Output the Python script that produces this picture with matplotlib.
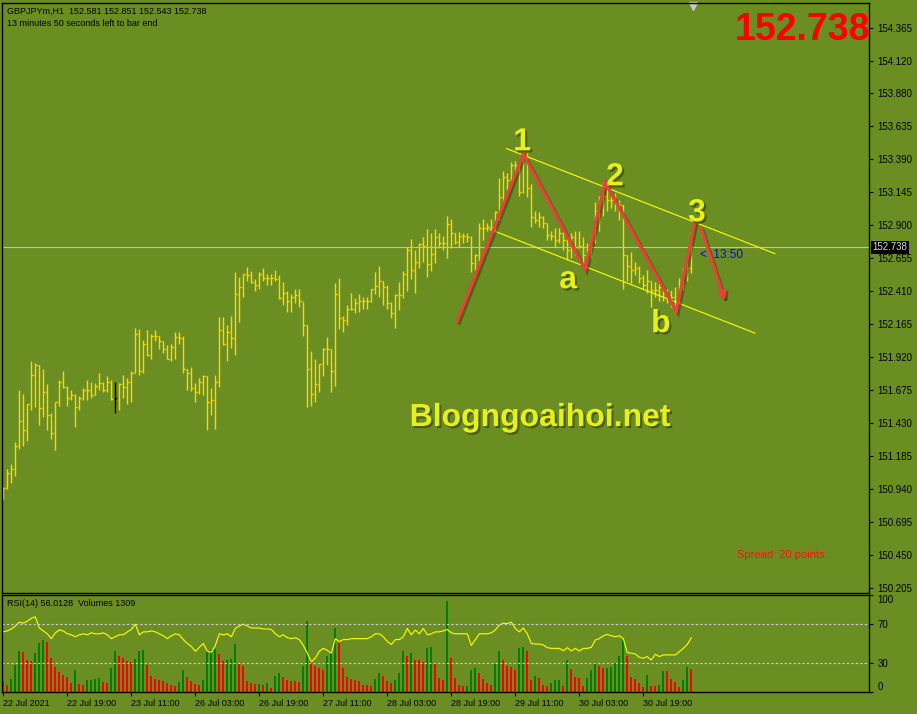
import numpy as np
import matplotlib.pyplot as plt
import matplotlib.patheffects as pe
from matplotlib.transforms import blended_transform_factory

plt.rcParams['font.family'] = ['Liberation Sans', 'DejaVu Sans']

# GBPJPYm H1 bars, 22 Jul 2021 03:00 onwards (open of bar i = close of bar i-1)
first_open = 150.87
highs = [150.96, 151.09, 151.13, 151.29, 151.68, 151.65, 151.57, 151.89, 151.88, 151.86,
         151.83, 151.72, 151.51, 151.59, 151.75, 151.82, 151.71, 151.68, 151.65, 151.63,
         151.69, 151.75, 151.74, 151.73, 151.80, 151.74, 151.78, 151.75, 151.74, 151.73,
         151.79, 151.77, 151.82, 152.14, 152.13, 152.05, 152.12, 152.09, 152.12, 152.08,
         152.04, 152.01, 152.02, 152.11, 152.11, 152.08, 151.83, 151.85, 151.73, 151.77,
         151.79, 151.78, 151.69, 151.79, 152.22, 152.22, 152.16, 152.23, 152.55, 152.52,
         152.54, 152.59, 152.56, 152.50, 152.55, 152.58, 152.54, 152.54, 152.57, 152.53,
         152.48, 152.41, 152.39, 152.43, 152.43, 152.33, 152.16, 151.97, 151.91, 151.87,
         151.99, 152.07, 151.98, 152.47, 152.51, 152.23, 152.31, 152.40, 152.36, 152.39,
         152.37, 152.37, 152.43, 152.55, 152.60, 152.49, 152.46, 152.33, 152.39, 152.48,
         152.56, 152.74, 152.80, 152.72, 152.77, 152.81, 152.87, 152.84, 152.87, 152.84,
         152.82, 152.97, 152.95, 152.84, 152.85, 152.84, 152.84, 152.82, 152.69, 152.92,
         152.95, 152.92, 152.95, 153.01, 153.25, 153.30, 153.29, 153.37, 153.38, 153.36,
         153.46, 153.44, 153.21, 153.01, 153.00, 152.97, 152.92, 152.86, 152.88, 152.88,
         152.86, 152.80, 152.84, 152.86, 152.86, 152.81, 152.77, 152.83, 153.07, 153.12,
         153.22, 153.20, 153.16, 153.14, 153.09, 153.05, 152.68, 152.70, 152.63, 152.60,
         152.53, 152.57, 152.49, 152.48, 152.49, 152.46, 152.43, 152.42, 152.44, 152.51,
         152.58, 152.69, 152.851]
lows = [150.87, 150.94, 150.99, 151.04, 151.24, 151.26, 151.30, 151.53, 151.55, 151.42,
        151.48, 151.38, 151.31, 151.23, 151.56, 151.69, 151.56, 151.60, 151.40, 151.53,
        151.60, 151.60, 151.62, 151.64, 151.68, 151.66, 151.66, 151.60, 151.51, 151.53,
        151.62, 151.57, 151.59, 151.80, 151.79, 151.80, 151.93, 151.91, 152.04, 151.98,
        151.95, 151.91, 151.89, 151.91, 152.02, 151.80, 151.68, 151.67, 151.59, 151.65,
        151.64, 151.38, 151.49, 151.39, 151.70, 152.01, 151.89, 151.99, 151.94, 152.18,
        152.37, 152.49, 152.47, 152.41, 152.43, 152.49, 152.46, 152.46, 152.49, 152.35,
        152.31, 152.26, 152.26, 152.32, 152.29, 152.08, 151.55, 151.56, 151.59, 151.66,
        151.78, 151.86, 151.66, 151.71, 152.13, 152.11, 152.16, 152.27, 152.25, 152.26,
        152.28, 152.28, 152.33, 152.39, 152.37, 152.31, 152.28, 152.21, 152.14, 152.27,
        152.36, 152.41, 152.50, 152.40, 152.58, 152.63, 152.52, 152.56, 152.62, 152.73,
        152.72, 152.66, 152.73, 152.76, 152.74, 152.77, 152.78, 152.55, 152.57, 152.61,
        152.79, 152.86, 152.86, 152.85, 152.94, 153.03, 153.16, 153.18, 153.29, 153.12,
        153.14, 153.11, 152.89, 152.92, 152.89, 152.88, 152.79, 152.79, 152.74, 152.77,
        152.72, 152.64, 152.66, 152.68, 152.73, 152.58, 152.63, 152.66, 152.77, 152.86,
        152.97, 153.01, 153.03, 153.01, 152.94, 152.43, 152.49, 152.47, 152.53, 152.47,
        152.43, 152.40, 152.29, 152.37, 152.34, 152.34, 152.32, 152.29, 152.26, 152.33,
        152.42, 152.49, 152.543]
closes = [150.95, 151.06, 151.09, 151.26, 151.45, 151.38, 151.57, 151.79, 151.86, 151.54,
          151.66, 151.49, 151.36, 151.59, 151.74, 151.70, 151.62, 151.64, 151.55, 151.62,
          151.68, 151.68, 151.64, 151.71, 151.73, 151.68, 151.74, 151.61, 151.62, 151.72,
          151.70, 151.74, 151.80, 152.09, 151.82, 152.02, 151.94, 152.08, 152.08, 152.04,
          151.98, 151.91, 152.00, 152.07, 152.06, 151.83, 151.80, 151.69, 151.66, 151.74,
          151.78, 151.59, 151.60, 151.74, 152.12, 152.02, 152.11, 152.06, 152.39, 152.44,
          152.54, 152.53, 152.48, 152.46, 152.54, 152.51, 152.51, 152.51, 152.50, 152.36,
          152.40, 152.34, 152.37, 152.38, 152.34, 152.16, 151.83, 151.65, 151.72, 151.87,
          151.98, 151.98, 151.82, 152.39, 152.21, 152.20, 152.28, 152.28, 152.32, 152.34,
          152.34, 152.34, 152.43, 152.45, 152.49, 152.44, 152.32, 152.25, 152.38, 152.38,
          152.54, 152.72, 152.57, 152.63, 152.76, 152.75, 152.61, 152.69, 152.81, 152.77,
          152.77, 152.91, 152.84, 152.78, 152.82, 152.82, 152.81, 152.62, 152.68, 152.88,
          152.88, 152.89, 152.89, 153.00, 153.11, 153.26, 153.24, 153.35, 153.35, 153.15,
          153.41, 153.18, 152.96, 152.94, 152.96, 152.92, 152.83, 152.82, 152.79, 152.84,
          152.79, 152.72, 152.81, 152.74, 152.75, 152.68, 152.72, 152.79, 153.01, 153.09,
          153.12, 153.09, 153.09, 153.06, 153.05, 152.68, 152.60, 152.57, 152.58, 152.51,
          152.46, 152.49, 152.42, 152.42, 152.44, 152.40, 152.38, 152.37, 152.34, 152.46,
          152.54, 152.58, 152.738]
marked_bar = 28  # the one bar MT4 draws in black

volumes = [636, 411, 748, 1533, 2281, 2225, 1814, 1720, 2188, 2749,
           2936, 2786, 1907, 1403, 1103, 972, 842, 505, 1253, 449,
           411, 655, 692, 729, 785, 580, 505, 1346, 2319, 2001,
           1907, 1720, 1683, 1851, 2281, 2338, 1533, 916, 729, 655,
           598, 505, 374, 355, 542, 1253, 842, 598, 449, 411,
           655, 2281, 2375, 2431, 2132, 1720, 1814, 1870, 2712, 1590,
           1440, 598, 505, 449, 468, 411, 505, 224, 879, 1066,
           842, 655, 636, 598, 580, 1477, 4002, 1720, 1440, 1346,
           1253, 2001, 2281, 3590, 2749, 1346, 842, 729, 655, 598,
           411, 374, 355, 729, 1066, 879, 598, 505, 692, 1066,
           2281, 2001, 2188, 1814, 1795, 1683, 2468, 2525, 1590, 785,
           692, 5124, 1907, 785, 374, 318, 355, 1253, 1346, 1066,
           729, 505, 411, 1590, 2281, 1814, 1477, 1384, 1253, 2468,
           2525, 2281, 692, 879, 785, 411, 355, 505, 655, 692,
           318, 1777, 1290, 842, 785, 355, 785, 1253, 1627, 1440,
           1346, 1360, 1380, 1627, 2001, 2936, 2001, 842, 729, 505,
           262, 972, 355, 318, 411, 1197, 1159, 729, 542, 262,
           692, 1384, 1309]

rsi = [62, 63, 65, 68, 72, 71, 73, 76, 77.5, 66,
       63, 60, 55, 61, 64, 63, 60, 59, 57, 59,
       60, 59, 61, 60, 60, 61, 59, 55, 57, 59,
       59, 62, 64.5, 70, 59, 62, 62, 63, 62, 60,
       58, 55, 58, 60, 59, 54, 50, 47, 42, 46,
       50, 42, 41, 48, 60, 59, 60, 57, 65.5, 68,
       70, 68, 66, 66, 66, 65, 65, 64.5, 60, 57,
       59, 56, 55, 56, 54, 48, 40, 31, 35, 42,
       45, 43, 40, 55, 52, 54, 54, 55, 55, 55,
       55, 55, 57, 60, 60, 57, 52, 49, 54, 54,
       57, 65.5, 59, 64, 60, 65.5, 59, 60, 62, 62,
       63, 64.5, 61, 60, 60, 60, 60, 48, 54, 60,
       60, 60, 61, 64, 69, 71, 70.5, 72, 65.5, 62,
       66, 60, 50, 49.5, 49.5, 48.5, 45.7, 45, 45, 45,
       42.6, 45.7, 42.3, 45, 42.3, 45, 45, 46, 53.6, 55,
       58, 59.4, 58, 57, 58, 55, 40.6, 40, 39.2, 35.8,
       34.8, 36.5, 33, 39, 36.5, 38.2, 38.2, 38.2, 38.2, 41.6,
       45, 49, 56.0128]

price_ticks = [154.365, 154.120, 153.880, 153.635, 153.390, 153.145, 152.900, 152.655, 152.410,
               152.165, 151.920, 151.675, 151.430, 151.185, 150.940, 150.695, 150.450, 150.205]
date_pos = [0, 16, 32, 48, 64, 80, 96, 112, 128, 144, 160]
date_labels = ['22 Jul 2021', '22 Jul 19:00', '23 Jul 11:00', '26 Jul 03:00', '26 Jul 19:00',
               '27 Jul 11:00', '28 Jul 03:00', '28 Jul 19:00', '29 Jul 11:00', '30 Jul 03:00',
               '30 Jul 19:00']
last_price = 152.738

# hand drawn analysis (bar index, price)
wave_x = [113.5, 130.0, 145.4, 150.4, 168.2, 173.0]
wave_y = [152.19, 153.43, 152.57, 153.22, 152.26, 152.94]
arrow_from = (174.2, 152.90)
arrow_to = (180.6, 152.32)
chan_upper = ([125.8, 192.9], [153.47, 152.69])
chan_lower = ([121.7, 187.9], [152.87, 152.10])
wave_labels = ['1', '2', '3', 'a', 'b']
label_x = [129.7, 152.9, 173.4, 141.2, 164.4]
label_y = [153.457, 153.197, 152.930, 152.433, 152.107]

BG = '#6b8e23'
BAR = '#ffd700'
WAVE = '#ee4038'
LBL = '#e8f018'
W, H = 917, 714
PX = 0.72  # one pixel in points


def box(l, t, r, b):
    return [l / W, 1 - b / H, (r - l) / W, (b - t) / H]


fig = plt.figure(figsize=(W / 100, H / 100), dpi=100, facecolor=BG)
ax = fig.add_axes(box(2, 3, 869, 593), facecolor=BG)
ax_rsi = fig.add_axes(box(2, 595, 869, 692), facecolor=BG)

n = len(closes)
x = np.arange(n)
opens = [first_open] + closes[:-1]
cols = [BAR] * n
cols[marked_bar] = 'black'

# OHLC bars
ax.vlines(x, lows, highs, colors=cols, lw=1.0)
ax.hlines(opens, x - 0.3, x, colors=cols, lw=1.0)
ax.hlines(closes, x, x + 0.3, colors=cols, lw=1.0)
ax.axhline(last_price, color='#c0c0c0', lw=0.8)

xmin = -0.33
xmax = xmin + 867 / 4
ax.set_xlim(xmin, xmax)
ax.set_ylim(150.170, 154.551)
ax.set_xticks([])
ax.yaxis.tick_right()
ax.set_yticks(price_ticks)
ax.set_yticklabels([f'{p:.3f}' for p in price_ticks])
ax.tick_params(axis='y', labelsize=7, length=3, width=0.8, pad=3, colors='black')
for s in ax.spines.values():
    s.set_color('black')
    s.set_linewidth(1)

# current price box on the scale
trans = blended_transform_factory(ax.transAxes, ax.transData)
ax.text(1.004, last_price, f'{last_price:.3f}', transform=trans, ha='left', va='center',
        fontsize=7, color='#d8d8d8', zorder=5,
        bbox=dict(boxstyle='square,pad=0.15', fc='black', ec='none'))

# channel and wave drawing
ax.plot(chan_upper[0], chan_upper[1], color='#ffff00', lw=0.8)
ax.plot(chan_lower[0], chan_lower[1], color='#ffff00', lw=0.8)
shadow = [pe.SimpleLineShadow(offset=(1.5, -1.5), shadow_color='#2e3a0c', alpha=0.5), pe.Normal()]
ax.plot(wave_x, wave_y, color=WAVE, lw=2.2, solid_joinstyle='miter', path_effects=shadow, zorder=6)
ax.annotate('', xy=arrow_to, xytext=arrow_from, zorder=6,
            arrowprops=dict(arrowstyle='-|>', color=WAVE, lw=2.2, mutation_scale=12,
                            path_effects=shadow))

txt_shadow = [pe.withSimplePatchShadow(offset=(1.5, -1.5), shadow_rgbFace='#2e3a0c', alpha=0.6)]
for s, lx, ly in zip(wave_labels, label_x, label_y):
    ax.text(lx, ly, s, fontsize=23, fontweight='bold', color=LBL, ha='center', va='baseline',
            path_effects=txt_shadow, zorder=7)

ax.text(134.2, 151.41, 'Blogngoaihoi.net', fontsize=23, fontweight='bold', color=LBL,
        ha='center', va='baseline', path_effects=txt_shadow, zorder=7)
ax.text(174.2, 152.68, '<  13:50', fontsize=8.5, color='#0000ff', ha='left', va='center')
ax.text(183.4, 150.45, 'Spread: 20 points.', fontsize=8, color='#ff1010', ha='left', va='center')

# shift marker at the top
ax.plot([172.4], [0.995], marker='v', ms=6, color='#c8c8c8', clip_on=False,
        transform=blended_transform_factory(ax.transData, ax.transAxes))

fig.text(870 / W, 1 - 40 / H, f'{last_price:.3f}', fontsize=27, fontweight='bold',
         color='#ff0000', ha='right', va='baseline')
fig.text(7 / W, 1 - 11 / H, 'GBPJPYm,H1  152.581 152.851 152.543 152.738', fontsize=6.5,
         color='black', va='center')
fig.text(7 / W, 1 - 23 / H, '13 minutes 50 seconds left to bar end', fontsize=6.5,
         color='black', va='center')

# RSI + volumes panel
ax_vol = ax_rsi.twinx()
vcol = ['green'] + ['green' if volumes[i] > volumes[i - 1] else 'red' for i in range(1, len(volumes))]
ax_vol.vlines(np.arange(len(volumes)), 0, volumes, colors=vcol, lw=1.5 * PX, antialiased=False)
ax_vol.set_ylim(0, 5440)
ax_vol.axis('off')
ax_rsi.set_zorder(ax_vol.get_zorder() + 1)
ax_rsi.patch.set_visible(False)

ax_rsi.plot(np.arange(len(rsi)), rsi, color='#ffff00', lw=0.8)
for lvl in (70, 30):
    ax_rsi.axhline(lvl, color='#d0d0d0', lw=0.8, ls=(0, (2, 2)))
ax_rsi.set_xlim(xmin, xmax)
ax_rsi.set_ylim(0, 100)
ax_rsi.yaxis.tick_right()
ax_rsi.set_yticks([100, 70, 30, 0])
ax_rsi.set_yticklabels(['100', '70', '30', '0'])
ax_rsi.tick_params(axis='y', labelsize=7, length=3, width=0.8, pad=3)
lbls = ax_rsi.get_yticklabels()
lbls[0].set_va('top')
lbls[3].set_va('bottom')
ax_rsi.set_xticks(date_pos)
ax_rsi.set_xticklabels(date_labels)
ax_rsi.tick_params(axis='x', labelsize=6.5, length=3, width=0.8, pad=2)
for t in ax_rsi.get_xticklabels():
    t.set_ha('left')
for s in ax_rsi.spines.values():
    s.set_color('black')
    s.set_linewidth(1)
fig.text(7 / W, 1 - 603 / H, 'RSI(14) 56.0128  Volumes 1309', fontsize=6.5, color='black',
         va='center')

fig.savefig('out.png', dpi=100, facecolor=BG)
